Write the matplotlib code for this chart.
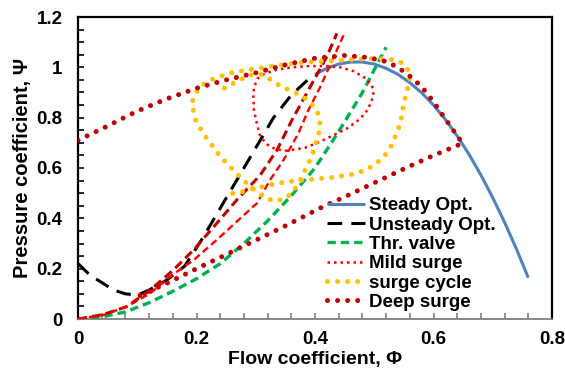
import matplotlib
matplotlib.use("Agg")
import matplotlib.pyplot as plt
from matplotlib.ticker import MultipleLocator, FuncFormatter

plt.rcParams['font.family'] = ['Liberation Sans', 'DejaVu Sans']
plt.rcParams['font.weight'] = 'bold'

# ---------------- data ----------------
steady_x = [0.40, 0.42, 0.44, 0.46, 0.48, 0.50, 0.52, 0.54, 0.56, 0.58,
            0.60, 0.62, 0.64, 0.66, 0.68, 0.70, 0.72, 0.74, 0.76]
steady_y = [0.972, 0.996, 1.013, 1.021, 1.021, 1.013, 0.996, 0.972, 0.939, 0.899,
            0.850, 0.793, 0.727, 0.654, 0.572, 0.482, 0.384, 0.278, 0.164]

unsteady_x = [0.0, 0.02, 0.04, 0.06, 0.08, 0.10, 0.12, 0.15, 0.18, 0.21,
              0.24, 0.27, 0.30, 0.33, 0.36, 0.39]
unsteady_y = [0.22, 0.175, 0.145, 0.115, 0.10, 0.095, 0.115, 0.155, 0.21, 0.32,
              0.44, 0.56, 0.68, 0.80, 0.89, 0.955]

valve_x = [0.0, 0.04, 0.08, 0.12, 0.16, 0.20, 0.24, 0.28, 0.32, 0.36, 0.40, 0.44, 0.48, 0.52]
valve_y = [0.0, 0.008, 0.028, 0.065, 0.11, 0.16, 0.22, 0.30, 0.39, 0.49, 0.60, 0.745, 0.90, 1.08]

# approach lines (no legend entry)
mild_path_x = [0.0, 0.043, 0.082, 0.122, 0.155, 0.195, 0.234, 0.274, 0.302, 0.324,
               0.347, 0.372, 0.389, 0.409, 0.437, 0.451]
mild_path_y = [0.0, 0.016, 0.049, 0.102, 0.168, 0.234, 0.314, 0.40, 0.46, 0.552,
               0.632, 0.738, 0.831, 0.923, 1.069, 1.142]

deep_path_x = [0.0, 0.043, 0.082, 0.122, 0.161, 0.195, 0.234, 0.268, 0.307, 0.336,
               0.361, 0.386, 0.42, 0.437]
deep_path_y = [0.0, 0.018, 0.049, 0.115, 0.195, 0.274, 0.38, 0.473, 0.57, 0.672,
               0.79, 0.897, 1.043, 1.135]

mild_x = [0.35, 0.383, 0.409, 0.431, 0.454, 0.476, 0.49, 0.499, 0.496, 0.485,
          0.465, 0.443, 0.42, 0.39, 0.36, 0.335, 0.315, 0.303, 0.297, 0.296,
          0.297, 0.302, 0.307, 0.318, 0.333, 0.35]
mild_y = [0.668, 0.68, 0.705, 0.73, 0.757, 0.795, 0.835, 0.89, 0.93, 0.957,
          0.985, 1.0, 1.005, 1.005, 1.0, 0.99, 0.975, 0.955, 0.92, 0.88,
          0.83, 0.775, 0.73, 0.695, 0.675, 0.668]

cycle_x = [0.261, 0.278, 0.293, 0.312, 0.328, 0.346, 0.363, 0.38, 0.398, 0.414,
           0.432, 0.449, 0.466, 0.482, 0.498, 0.512, 0.523, 0.531, 0.537, 0.544,
           0.547, 0.55, 0.554, 0.558, 0.561, 0.551, 0.537, 0.519, 0.502, 0.485,
           0.468, 0.451, 0.432, 0.416, 0.397, 0.381, 0.364, 0.346, 0.329, 0.312,
           0.295, 0.278, 0.261, 0.244, 0.228, 0.212, 0.2, 0.193, 0.195, 0.199,
           0.208, 0.218, 0.228, 0.238, 0.25, 0.262, 0.274, 0.287, 0.298, 0.313,
           0.33, 0.347, 0.361, 0.37, 0.379, 0.386, 0.394, 0.403, 0.408, 0.408,
           0.403, 0.389, 0.376, 0.361, 0.345, 0.33, 0.315, 0.303, 0.287, 0.27,
           0.254, 0.238]
cycle_y = [0.499, 0.506, 0.517, 0.526, 0.535, 0.543, 0.548, 0.552, 0.556, 0.559,
           0.563, 0.57, 0.576, 0.589, 0.609, 0.635, 0.664, 0.698, 0.735, 0.775,
           0.815, 0.855, 0.894, 0.93, 0.974, 1.012, 1.029, 1.033, 1.035, 1.034,
           1.032, 1.029, 1.027, 1.024, 1.023, 1.02, 1.016, 1.01, 1.006, 0.999,
           0.993, 0.987, 0.98, 0.967, 0.954, 0.933, 0.903, 0.864, 0.824, 0.787,
           0.751, 0.715, 0.685, 0.652, 0.621, 0.592, 0.563, 0.535, 0.513, 0.486,
           0.469, 0.476, 0.499, 0.533, 0.568, 0.606, 0.643, 0.711, 0.751, 0.791,
           0.83, 0.868, 0.888, 0.906, 0.921, 0.943, 0.968, 0.975, 0.967, 0.946,
           0.926, 0.906]

deep_x = [0.0, 0.05, 0.10, 0.15, 0.20, 0.25, 0.30, 0.35, 0.40, 0.45,
          0.49, 0.52, 0.54, 0.56, 0.58, 0.60, 0.62, 0.64, 0.649,
          0.60, 0.555, 0.50, 0.45, 0.414, 0.35, 0.30, 0.25, 0.20, 0.15, 0.10]
deep_y = [0.71, 0.767, 0.826, 0.875, 0.917, 0.95, 0.978, 1.01, 1.036, 1.047,
          1.039, 1.023, 1.0, 0.965, 0.923, 0.863, 0.795, 0.728, 0.698,
          0.65, 0.602, 0.541, 0.485, 0.447, 0.37, 0.313, 0.256, 0.20, 0.142, 0.089]

x_ticks = [0, 0.2, 0.4, 0.6, 0.8]
y_ticks = [0, 0.2, 0.4, 0.6, 0.8, 1.0, 1.2]

# ---------------- figure ----------------
fig = plt.figure(figsize=(5.65, 3.74), dpi=100)
ax = fig.add_axes([78 / 565, 55 / 374, 474 / 565, 302 / 374])

ax.plot(steady_x, steady_y, color='#4F81BD', lw=2.2, solid_capstyle='butt',
        label='Steady Opt.', zorder=3)
ax.plot(unsteady_x, unsteady_y, color='black', lw=2.2, linestyle=(0, (4.8, 3.0)),
        label='Unsteady Opt.', zorder=3)
ax.plot(valve_x, valve_y, color='#00B050', lw=2.4, linestyle=(0, (2.5, 1.5)),
        label='Thr. valve', zorder=3)
ax.plot(deep_path_x, deep_path_y, color='#C00000', lw=2.2, linestyle=(0, (3.0, 1.6)),
        zorder=3)
ax.plot(mild_path_x, mild_path_y, color='#FF0000', lw=1.7, linestyle=(0, (3.0, 1.7)),
        zorder=3)
ax.plot(mild_x, mild_y, color='#FF0000', lw=1.8, linestyle=(0, (1, 1.6)),
        label='Mild surge', zorder=4)
ax.plot(cycle_x, cycle_y, color='#FFC000', lw=3.6, linestyle=(0, (0.01, 2.0)),
        dash_capstyle='round', label='surge cycle', zorder=4)
ax.plot(deep_x, deep_y, color='#C00000', lw=3.6, linestyle=(0, (0.01, 2.0)),
        dash_capstyle='round', label='Deep surge', zorder=5)

ax.set_xlim(0, 0.8)
ax.set_ylim(0, 1.2)
ax.set_xticks(x_ticks)
ax.set_yticks(y_ticks)
ax.xaxis.set_minor_locator(MultipleLocator(0.04))
ax.yaxis.set_minor_locator(MultipleLocator(0.05))
fmt = FuncFormatter(lambda v, p: '%g' % round(v, 2))
ax.xaxis.set_major_formatter(fmt)
ax.yaxis.set_major_formatter(fmt)

ax.tick_params(axis='both', which='both', direction='in', length=4.5, width=1.2,
               labelsize=13.5)
ax.tick_params(axis='x', which='both', colors='#808080', labelcolor='black', pad=9)
ax.tick_params(axis='y', which='both', colors='black', pad=11)
for lab in ax.get_xticklabels() + ax.get_yticklabels():
    lab.set_fontweight('bold')

for s in ['left', 'top', 'right']:
    ax.spines[s].set_color('black')
    ax.spines[s].set_linewidth(1.6)
ax.spines['bottom'].set_color('#808080')
ax.spines['bottom'].set_linewidth(1.3)

ax.set_xlabel('Flow coefficient, \u03a6', fontsize=14, fontweight='bold', labelpad=2)
ax.set_ylabel('Pressure coefficient, \u03a8', fontsize=14.5, fontweight='bold', labelpad=3)

leg = ax.legend(loc='upper left', bbox_to_anchor=(327 / 565, 1 - 197 / 374),
                bbox_transform=fig.transFigure, frameon=False, fontsize=13.5,
                handlelength=2.0, handletextpad=0.25, labelspacing=0.12,
                borderpad=0, borderaxespad=0)
for t in leg.get_texts():
    t.set_fontweight('bold')

fig.savefig('out.png', dpi=100)
